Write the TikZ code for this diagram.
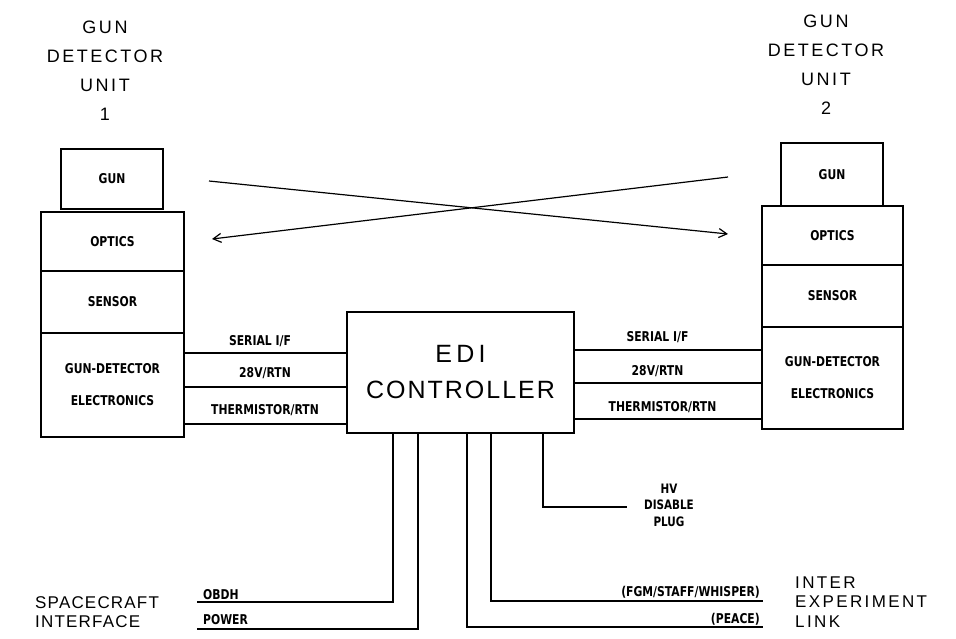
\documentclass[tikz,border=0pt]{standalone}
\usepackage{fontspec}
\usetikzlibrary{arrows.meta}
\newfontfamily\plotfont{Liberation Sans}[LetterSpace=14]
\newfontfamily\ctrlfont{Liberation Sans}[LetterSpace=8]
\newfontfamily\scfont{Liberation Sans}[LetterSpace=7]
\newfontfamily\labfont{DejaVu Sans Bold}[FakeStretch=0.8]
\begin{document}
\begin{tikzpicture}[x=1pt,y=-1pt,
  unitbox/.style={draw,line width=2.2pt,inner sep=0pt,font=\labfont\fontsize{13.5}{16}\selectfont,align=center},
  ctrlbox/.style={draw,line width=2.2pt,inner sep=0pt,align=center,font=\ctrlfont\fontsize{25}{36}\selectfont},
  sig/.style={line width=1.6pt},
  lab/.style={inner sep=0pt,font=\labfont\fontsize{13.5}{16}\selectfont},
  big/.style={inner sep=0pt,align=center,font=\plotfont\fontsize{18}{29}\selectfont},
  bigl/.style={inner sep=0pt,align=left,font=\plotfont\fontsize{17}{19.5}\selectfont},
  arr/.style={line width=1.2pt,-{Straight Barb[length=8pt,width=9pt,line width=1.2pt]}}
]
\useasboundingbox (0,0) rectangle (956,638);

% unit titles
\node[big] (t1) at (105,71) {GUN\\DETECTOR\\UNIT\\1};
\node[big] (t2) at (826,65) {GUN\\DETECTOR\\UNIT\\2};

% left unit
\node[unitbox,minimum width=102pt,minimum height=60pt] (gun1) at (112,179) {GUN};
\node[unitbox,minimum width=143pt,minimum height=59pt] (opt1) at (112.5,241.5) {OPTICS};
\node[unitbox,minimum width=143pt,minimum height=62pt] (sen1) at (112.5,302) {SENSOR};
\node[unitbox,minimum width=143pt,minimum height=104pt] (ele1) at (112.5,385) {GUN-DETECTOR\\[16pt]ELECTRONICS};

% right unit
\node[unitbox,minimum width=102pt,minimum height=63pt] (gun2) at (832,174.5) {GUN};
\node[unitbox,minimum width=141pt,minimum height=59pt] (opt2) at (832.5,235.5) {OPTICS};
\node[unitbox,minimum width=141pt,minimum height=62pt] (sen2) at (832.5,296) {SENSOR};
\node[unitbox,minimum width=141pt,minimum height=102pt] (ele2) at (832.5,378) {GUN-DETECTOR\\[16pt]ELECTRONICS};

% controller
\node[ctrlbox,minimum width=227pt,minimum height=121pt] (ctrl) at (460.5,372.5) {E\,D\,I\\CONTROLLER};

% crossing arrows
\coordinate (xa) at (209,181);
\coordinate (xb) at (728,234);
\coordinate (xc) at (728,177);
\coordinate (xd) at (212,239);
\draw[arr] (xa) -- (xb);
\draw[arr] (xc) -- (xd);

% left harness
\draw[sig] (ele1.east |- 0,353) -- (ctrl.west |- 0,353);
\draw[sig] (ele1.east |- 0,387) -- (ctrl.west |- 0,387);
\draw[sig] (ele1.east |- 0,424) -- (ctrl.west |- 0,424);
\node[lab] (ls) at (260,341) {SERIAL I/F};
\node[lab] (lp) at (265,373) {28V/RTN};
\node[lab] (lt) at (265,410) {THERMISTOR/RTN};

% right harness
\draw[sig] (ctrl.east |- 0,350) -- (ele2.west |- 0,350);
\draw[sig] (ctrl.east |- 0,383) -- (ele2.west |- 0,383);
\draw[sig] (ctrl.east |- 0,419) -- (ele2.west |- 0,419);
\node[lab] (rs) at (657.5,337) {SERIAL I/F};
\node[lab] (rp) at (657.5,371) {28V/RTN};
\node[lab] (rt) at (662.5,407) {THERMISTOR/RTN};

% bottom lines
\coordinate (obdhend) at (197,602);
\coordinate (powend) at (197,629);
\coordinate (fgmend) at (763,601);
\coordinate (peaend) at (763,627);
\coordinate (hvend) at (627,507);
\draw[sig] (ctrl.south -| 393,0) |- (obdhend);
\draw[sig] (ctrl.south -| 418,0) |- (powend);
\draw[sig] (ctrl.south -| 467,0) |- (peaend);
\draw[sig] (ctrl.south -| 491,0) |- (fgmend);
\draw[sig] (ctrl.south -| 543,0) |- (hvend);

\node[lab,anchor=west] (obdh) at (203,595) {OBDH};
\node[lab,anchor=west] (pow) at (203,620) {POWER};
\node[lab,anchor=east] (fgm) at (760,592) {(FGM/STAFF/WHISPER)};
\node[lab,anchor=east] (pea) at (760,619) {(PEACE)};
\node[lab,align=center,font=\labfont\fontsize{13}{16.5}\selectfont] (hv) at (669,505) {HV\\DISABLE\\PLUG};

\node[bigl,anchor=west,font=\scfont\fontsize{17}{19.5}\selectfont] (sc) at (35,612) {SPACECRAFT\\INTERFACE};
\node[bigl,anchor=west] (iel) at (795,602) {INTER\\EXPERIMENT\\LINK};
\end{tikzpicture}
\end{document}
